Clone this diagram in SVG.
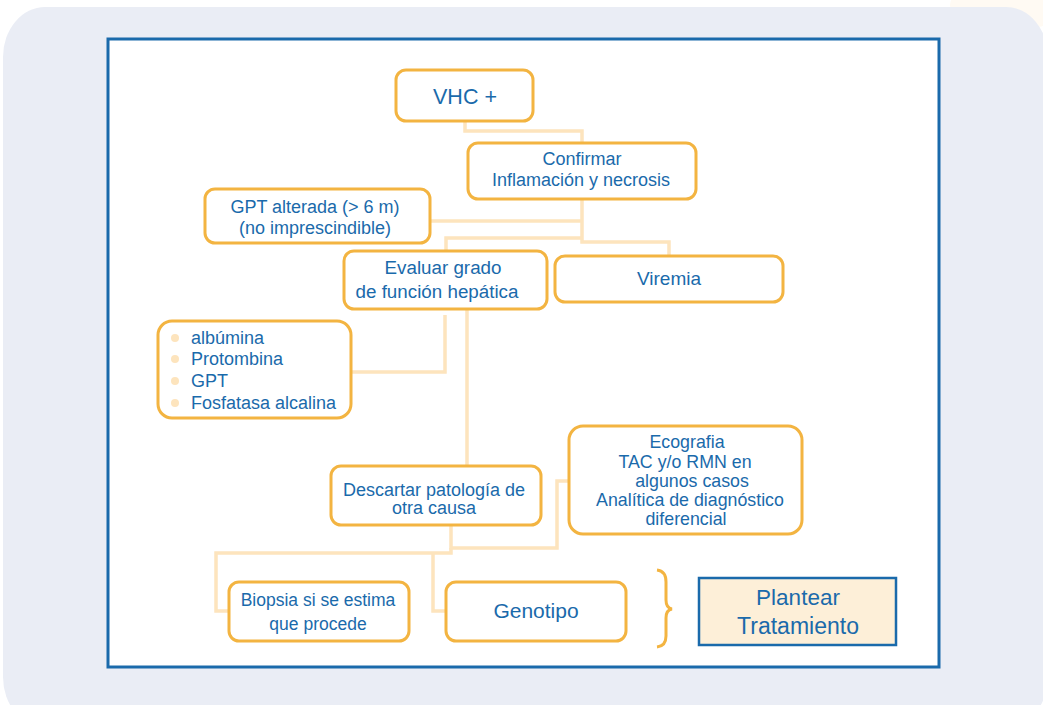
<svg xmlns="http://www.w3.org/2000/svg" width="1043" height="705" viewBox="0 0 1043 705">
<style>
.bg{fill:#eaedf5}
.frame{fill:#fff;stroke:#1a6aab;stroke-width:3}
.node{fill:#fff;stroke:#f3b441;stroke-width:3}
.t{font-family:"Liberation Sans",Arial,sans-serif;fill:#1a6aab;text-anchor:middle}
.tl{font-family:"Liberation Sans",Arial,sans-serif;fill:#1a6aab}
.c{fill:none;stroke:#fde4bd;stroke-width:3.5}
.bul{fill:#fde4bd}
</style>
<rect x="0" y="0" width="1043" height="705" fill="#fff"/>
<ellipse cx="1010" cy="5" rx="60" ry="25" fill="#fffaf3"/>
<rect class="bg" x="3" y="7" width="1045" height="720" rx="42" ry="50"/>
<rect class="frame" x="108" y="39" width="831" height="628"/>
<g id="connectors">
<polyline class="c" points="465,121 465,131 582,131 582,143"/>
<polyline class="c" points="582,199 582,242 669,242 669,256"/>
<polyline class="c" points="430,221 582,221"/>
<polyline class="c" points="582,238 446,238 446,251"/>
<polyline class="c" points="445,315 445,372 351,372"/>
<polyline class="c" points="467,309 467,470 488,470"/>
<polyline class="c" points="451,525 451,548 557,548 557,481 569,481"/>
<polyline class="c" points="451,548 451,553 216,553 216,611 229,611"/>
<polyline class="c" points="433,553 433,611 446,611"/>
</g>
<g id="n-vhc"><rect class="node" x="396" y="70" width="137" height="51" rx="10"/><text class="t" x="465" y="104" font-size="21.5">VHC +</text></g>
<g id="n-confirmar"><rect class="node" x="468" y="143" width="228" height="56" rx="10"/><text class="t" x="582" y="165" font-size="18">Confirmar</text><text class="t" x="581" y="186" font-size="18">Inflamación y necrosis</text></g>
<g id="n-gpt"><rect class="node" x="205" y="189" width="225" height="54" rx="10"/><text class="t" x="315" y="213" font-size="18">GPT alterada (&gt; 6 m)</text><text class="t" x="315" y="234" font-size="18">(no imprescindible)</text></g>
<g id="n-evaluar"><rect class="node" x="344" y="251" width="203" height="58" rx="10"/><text class="t" x="443" y="274" font-size="18.8">Evaluar grado</text><text class="t" x="437" y="298" font-size="18.8">de función hepática</text></g>
<g id="n-viremia"><rect class="node" x="555" y="256" width="228" height="46" rx="10"/><text class="t" x="669" y="285" font-size="19">Viremia</text></g>
<g id="n-lista"><rect class="node" x="158" y="321" width="193" height="97" rx="14"/>
<circle class="bul" cx="175" cy="338" r="4"/><circle class="bul" cx="175" cy="359" r="4"/><circle class="bul" cx="175" cy="381" r="4"/><circle class="bul" cx="175" cy="403" r="4"/>
<text class="tl" x="191" y="344" font-size="18">albúmina</text>
<text class="tl" x="191" y="365" font-size="18">Protombina</text>
<text class="tl" x="191" y="387" font-size="18">GPT</text>
<text class="tl" x="191" y="409" font-size="18">Fosfatasa alcalina</text></g>
<g id="n-descartar"><rect class="node" x="331" y="466" width="210" height="59" rx="10"/><text class="t" x="434" y="496" font-size="18">Descartar patología de</text><text class="t" x="434" y="514" font-size="18">otra causa</text></g>
<g id="n-eco"><rect class="node" x="569" y="426" width="233" height="108" rx="14"/>
<text class="t" x="687" y="448" font-size="17.8">Ecografia</text>
<text class="t" x="685" y="468" font-size="17.8">TAC y/o RMN en</text>
<text class="t" x="692" y="487" font-size="17.8">algunos casos</text>
<text class="t" x="690" y="506" font-size="17.8">Analítica de diagnóstico</text>
<text class="t" x="686" y="525" font-size="17.8">diferencial</text></g>
<g id="n-biopsia"><rect class="node" x="229" y="582" width="180" height="59" rx="10"/><text class="t" x="318" y="606" font-size="17.5">Biopsia si se estima</text><text class="t" x="318" y="630" font-size="17.5">que procede</text></g>
<g id="n-genotipo"><rect class="node" x="446" y="582" width="180" height="59" rx="10"/><text class="t" x="536" y="618" font-size="21">Genotipo</text></g>
<g id="brace"><path d="M657,570 Q666,571 666,582 L666,600 Q666,608 672,609 Q666,610 666,618 L666,636 Q666,646 657,647" fill="none" stroke="#f3b441" stroke-width="3"/></g>
<g id="n-plantear"><rect x="699" y="578" width="197" height="67" fill="#fdefd8" stroke="#1a6aab" stroke-width="2.5"/><text class="t" x="798" y="605" font-size="22.5">Plantear</text><text class="t" x="798" y="634" font-size="23">Tratamiento</text></g>
</svg>
